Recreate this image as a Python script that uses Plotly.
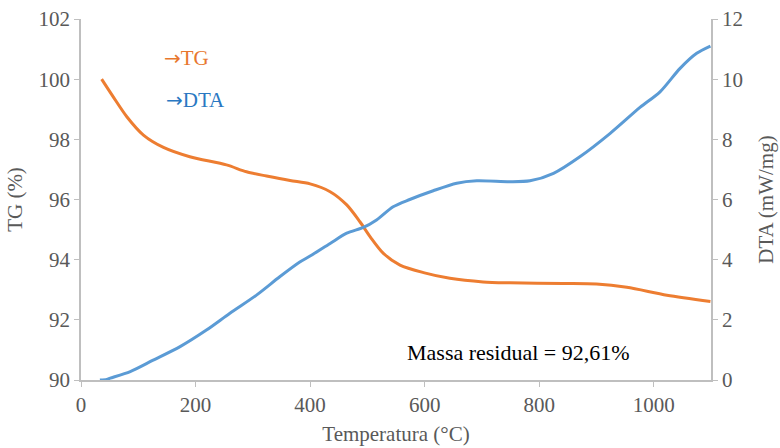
import plotly.graph_objects as go

# TG (%) vs temperature
tg_temp = [36, 56, 80, 109, 144, 190, 254, 289, 324, 365, 400, 435, 464, 487, 505, 528, 557, 598, 644, 702, 749, 842, 900, 953, 1023, 1099]
tg_vals = [100.0, 99.42, 98.75, 98.14, 97.73, 97.42, 97.15, 96.92, 96.78, 96.63, 96.52, 96.26, 95.82, 95.26, 94.76, 94.21, 93.82, 93.57, 93.38, 93.26, 93.23, 93.21, 93.19, 93.08, 92.82, 92.61]

# DTA (mW/mg) vs temperature
dta_temp = [33, 45, 51, 86, 126, 173, 219, 260, 307, 347, 382, 400, 435, 464, 493, 516, 545, 574, 615, 656, 691, 749, 784, 825, 871, 924, 976, 1011, 1046, 1075, 1099]
dta_vals = [0.0, 0.02, 0.06, 0.28, 0.66, 1.11, 1.66, 2.22, 2.83, 3.43, 3.92, 4.12, 4.54, 4.88, 5.07, 5.32, 5.76, 6.0, 6.29, 6.54, 6.62, 6.59, 6.62, 6.87, 7.42, 8.2, 9.06, 9.58, 10.36, 10.86, 11.1]

x_ticks = [0, 200, 400, 600, 800, 1000]
tg_ticks = [90, 92, 94, 96, 98, 100, 102]
dta_ticks = [0, 2, 4, 6, 8, 10, 12]

ORANGE = "#ED7D31"
BLUE = "#5B9BD5"
GRAY = "#595959"
AXIS = "#BFBFBF"
FONT = "Liberation Serif, Times New Roman, serif"
ARROW = '<span style="font-family:DejaVu Sans;font-size:20px">→</span>'

fig = go.Figure()
fig.add_trace(go.Scatter(x=tg_temp, y=tg_vals, mode="lines", name="TG",
                         line=dict(color=ORANGE, width=3, shape="spline", smoothing=0.8),
                         yaxis="y"))
fig.add_trace(go.Scatter(x=dta_temp, y=dta_vals, mode="lines", name="DTA",
                         line=dict(color=BLUE, width=3, shape="spline", smoothing=0.8),
                         yaxis="y2"))

axis_common = dict(showgrid=False, zeroline=False, showline=True, linecolor=AXIS,
                   linewidth=1.5, ticks="outside", ticklen=5, tickcolor=AXIS, automargin=False,
                   tickfont=dict(family=FONT, size=21, color=GRAY))

title_font = dict(family=FONT, size=21, color=GRAY)

fig.update_layout(
    width=780, height=448,
    margin=dict(l=81, r=69, t=19, b=68),
    paper_bgcolor="white", plot_bgcolor="white",
    showlegend=False,
    font=dict(family=FONT),
    xaxis=dict(range=[0, 1100], tickvals=x_ticks,
               title=dict(text="Temperatura (°C)", font=title_font, standoff=10),
               **axis_common),
    yaxis=dict(range=[90, 102], tickvals=tg_ticks,
               title=dict(text="TG (%)", font=title_font, standoff=10),
               **axis_common),
    yaxis2=dict(range=[0, 12], tickvals=dta_ticks, overlaying="y", side="right",
                title=dict(text="DTA (mW/mg)", font=title_font, standoff=16),
                **axis_common),
    annotations=[
        dict(text=ARROW + "TG", xref="paper", yref="paper",
             x=0.128, y=0.892, xanchor="left", yanchor="middle",
             showarrow=False, font=dict(family=FONT, size=21, color="#E8772E")),
        dict(text=ARROW + "DTA", xref="paper", yref="paper",
             x=0.131, y=0.776, xanchor="left", yanchor="middle",
             showarrow=False, font=dict(family=FONT, size=21, color="#2A78C2")),
        dict(text="Massa residual = 92,61%", xref="paper", yref="paper", x=0.514, y=0.075,
             xanchor="left", yanchor="middle", showarrow=False,
             font=dict(family=FONT, size=22, color="black")),
    ],
)

fig.write_html("out.html")
